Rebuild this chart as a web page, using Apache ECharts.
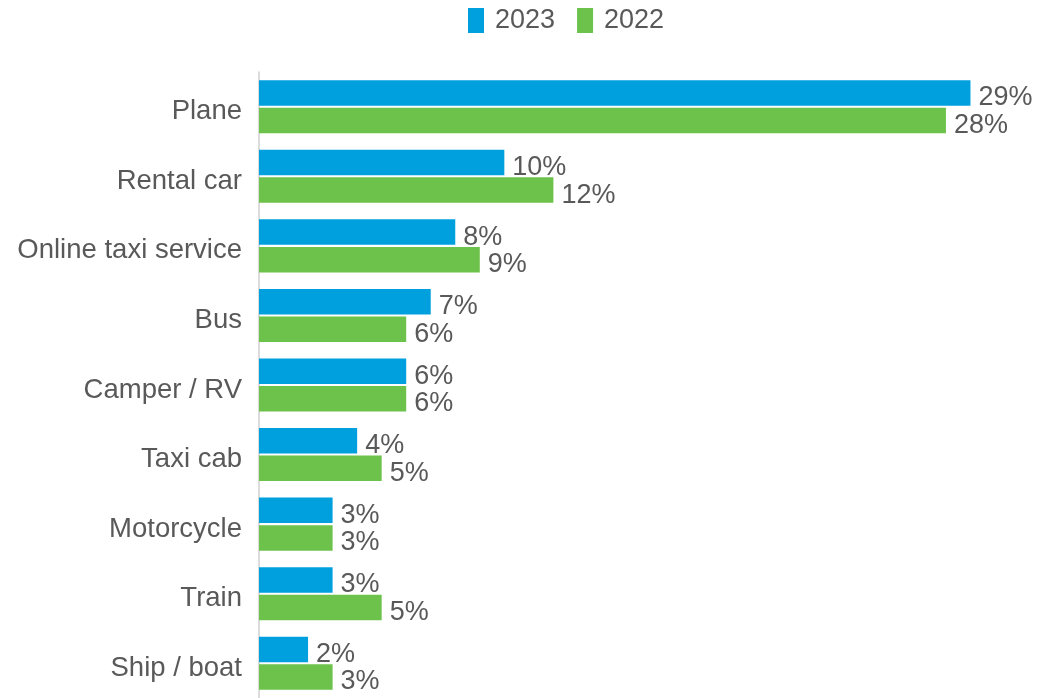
<!DOCTYPE html>
<html>
<head>
<meta charset="utf-8">
<script src="https://cdn.jsdelivr.net/npm/echarts@6/dist/echarts.min.js"></script>
<style>
  html, body { margin: 0; padding: 0; background: #fff; }
  #chart { width: 1038px; height: 698px; }
</style>
</head>
<body>
<div id="chart"></div>
<script>
const categories = ['Plane', 'Rental car', 'Online taxi service', 'Bus', 'Camper / RV', 'Taxi cab', 'Motorcycle', 'Train', 'Ship / boat'];
const values2023 = [29, 10, 8, 7, 6, 4, 3, 3, 2];
const values2022 = [28, 12, 9, 6, 6, 5, 3, 5, 3];

const font = 'Liberation Sans, Arial, sans-serif';
const textColor = '#595959';

const chart = echarts.init(document.getElementById('chart'));

// label to the right of each bar, nudged down a bit like the original
const barLabel = (dy) => ({
  show: true,
  position: 'right',
  distance: 8,
  offset: [0, dy],
  formatter: '{c}%',
  color: textColor,
  fontSize: 27,
  fontFamily: font
});

chart.setOption({
  animation: false,
  legend: {
    data: ['2023', '2022'],
    left: 468,
    top: 7,
    padding: 0,
    itemWidth: 16,
    itemHeight: 25,
    itemGap: 22,
    icon: 'rect',
    textStyle: {
      color: textColor,
      fontSize: 27,
      fontFamily: font,
      padding: [0, 0, 0, 6]
    }
  },
  grid: {
    left: 259,
    top: 72,
    width: 736,
    height: 630
  },
  xAxis: {
    type: 'value',
    min: 0,
    max: 30,
    show: false
  },
  yAxis: {
    type: 'category',
    data: categories,
    inverse: true,
    axisTick: { show: false },
    axisLine: {
      lineStyle: { color: '#d0d0d0', width: 1.5 }
    },
    axisLabel: {
      margin: 17,
      formatter: '{v|{value}}',
      rich: {
        v: {
          color: textColor,
          fontSize: 27.5,
          fontFamily: font,
          padding: [10, 0, 0, 0]
        }
      }
    }
  },
  series: [
    {
      name: '2023',
      type: 'bar',
      barWidth: 25.5,
      barGap: '8%',
      itemStyle: { color: '#00a0df' },
      label: barLabel(5),
      data: values2023
    },
    {
      name: '2022',
      type: 'bar',
      barWidth: 25.5,
      barGap: '8%',
      itemStyle: { color: '#6cc24a' },
      label: barLabel(5),
      data: values2022
    }
  ]
});
</script>
</body>
</html>
